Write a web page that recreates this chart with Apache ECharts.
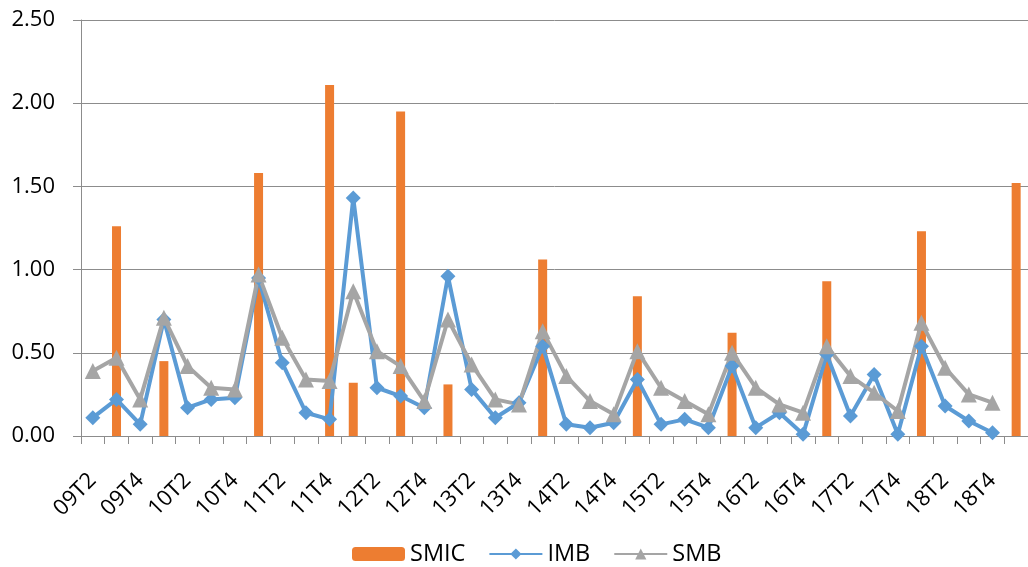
<!DOCTYPE html>
<html>
<head>
<meta charset="utf-8">
<script src="https://cdn.jsdelivr.net/npm/echarts@6/dist/echarts.min.js"></script>
<style>
html,body{margin:0;padding:0;background:#fff;}
#chart{width:1028px;height:567px;}
</style>
</head>
<body>
<div id="chart"></div>
<script>
const categories = ['09T2','09T3','09T4','10T1','10T2','10T3','10T4','11T1','11T2','11T3','11T4','12T1','12T2','12T3','12T4','13T1','13T2','13T3','13T4','14T1','14T2','14T3','14T4','15T1','15T2','15T3','15T4','16T1','16T2','16T3','16T4','17T1','17T2','17T3','17T4','18T1','18T2','18T3','18T4','19T1'];
const smic = [null,1.26,null,0.45,null,null,null,1.58,null,null,2.11,0.32,null,1.95,null,0.31,null,null,null,1.06,null,null,null,0.84,null,null,null,0.62,null,null,null,0.93,null,null,null,1.23,null,null,null,1.52];
const imb = [0.11,0.22,0.07,0.70,0.17,0.22,0.23,0.95,0.44,0.14,0.10,1.43,0.29,0.24,0.17,0.96,0.28,0.11,0.20,0.54,0.07,0.05,0.08,0.34,0.07,0.10,0.05,0.42,0.05,0.14,0.01,0.49,0.12,0.37,0.01,0.54,0.18,0.09,0.02,null];
const smb = [0.39,0.47,0.22,0.71,0.42,0.29,0.28,0.97,0.59,0.34,0.33,0.87,0.51,0.42,0.21,0.70,0.43,0.22,0.19,0.63,0.36,0.21,0.13,0.51,0.29,0.21,0.13,0.50,0.29,0.19,0.14,0.54,0.36,0.26,0.15,0.68,0.41,0.25,0.20,null];
const yTicks = [0, 0.5, 1, 1.5, 2, 2.5];

const chart = echarts.init(document.getElementById('chart'));
const font = "'Open Sans', 'Noto Sans', sans-serif";
chart.setOption({
  animation: false,
  backgroundColor: '#fff',
  textStyle: { fontFamily: font, color: '#000' },
  grid: { left: 81, top: 20, width: 952, height: 416, containLabel: false },
  legend: {
    left: 352, top: 542, padding: 0,
    itemWidth: 53, itemHeight: 14, itemGap: 23,
    textStyle: { fontFamily: font, fontSize: 23.5, color: '#000' },
    data: ['SMIC', 'IMB', 'SMB']
  },
  xAxis: {
    type: 'category',
    data: categories,
    boundaryGap: true,
    axisLine: { lineStyle: { color: '#8c8c8c', width: 1 } },
    axisTick: { show: true, alignWithLabel: false, interval: 0, length: 8, lineStyle: { color: '#8c8c8c' } },
    axisLabel: {
      interval: 1, rotate: 45, margin: 41, fontSize: 22, color: '#000', fontFamily: font,
      padding: [12, 0, 0, 0]
    },
    splitLine: { show: false }
  },
  yAxis: {
    type: 'value',
    min: yTicks[0], max: yTicks[yTicks.length - 1], interval: 0.5,
    axisLine: { show: true, lineStyle: { color: '#8c8c8c', width: 1 } },
    axisTick: { show: true, length: 8, lineStyle: { color: '#8c8c8c' } },
    axisLabel: { margin: 26, fontSize: 22, color: '#000', fontFamily: font, formatter: v => v.toFixed(2) },
    splitLine: { show: true, lineStyle: { color: '#8c8c8c', width: 1 } }
  },
  series: [
    { name: 'SMIC', type: 'bar', data: smic, barWidth: 9, itemStyle: { color: '#ED7D31' } },
    { name: 'IMB', type: 'line', data: imb, symbol: 'diamond', symbolSize: 15, showAllSymbol: true,
      lineStyle: { color: '#5B9BD5', width: 4 }, itemStyle: { color: '#5B9BD5' } },
    { name: 'SMB', type: 'line', data: smb, symbol: 'triangle', symbolSize: 16, showAllSymbol: true,
      lineStyle: { color: '#A5A5A5', width: 4 }, itemStyle: { color: '#A5A5A5' } }
  ]
});
</script>
</body>
</html>
